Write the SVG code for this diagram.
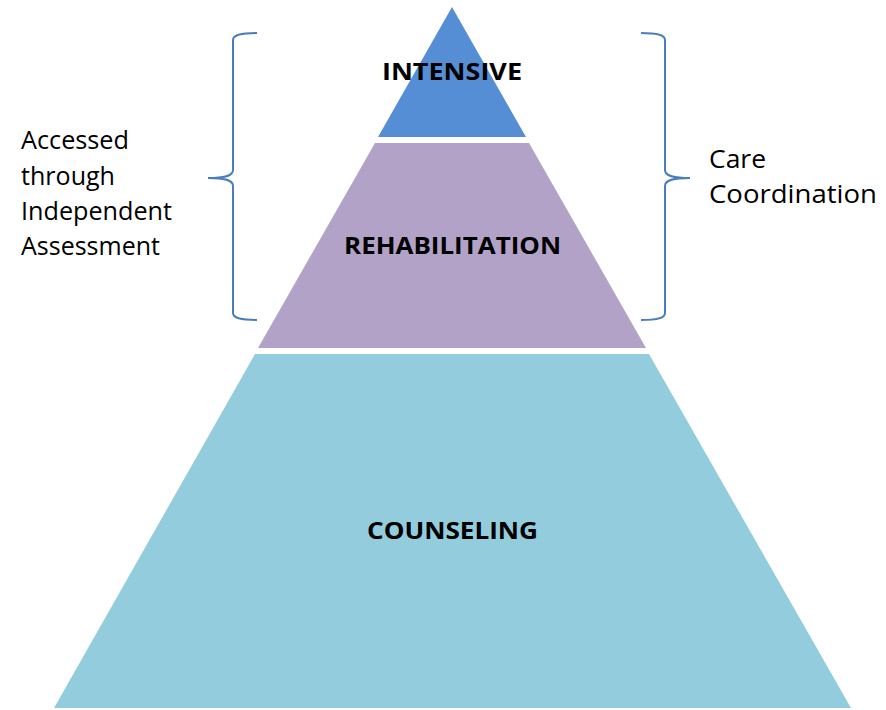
<svg xmlns="http://www.w3.org/2000/svg" width="886" height="710" viewBox="0 0 886 710">
<style>
.lbl{font-family:"Open Sans","Liberation Sans",sans-serif;font-size:25px;fill:#000}
.tier{font-family:"Open Sans","Liberation Sans",sans-serif;font-size:24px;font-weight:bold;fill:#000;text-anchor:start}
.brace{fill:none;stroke:#4A7EBB;stroke-width:2}
</style>
<rect width="886" height="710" fill="#fff"/>
<g id="counseling">
<polygon points="255,354 649,354 851,708 54,708" fill="#93CDDD"/>
<text class="tier" x="367" y="539" textLength="171" lengthAdjust="spacingAndGlyphs">COUNSELING</text>
</g>
<g id="rehabilitation">
<polygon points="375,143 529,143 646,348 258,348" fill="#B3A2C7"/>
<text class="tier" x="344" y="254" textLength="217" lengthAdjust="spacingAndGlyphs">REHABILITATION</text>
</g>
<g id="intensive">
<polygon points="452,7 526,137 378,137" fill="#558ED5"/>
<text class="tier" x="382" y="80" textLength="140" lengthAdjust="spacingAndGlyphs">INTENSIVE</text>
</g>
<g id="connectors">
<path class="brace" d="M257,33 C240,33 233,35 233,40 L233,170 C233,176 225,178 208,178 C225,178 233,180 233,186 L233,313 C233,318 240,320 257,320"/>
<path class="brace" d="M641,33 C658,33 665,35 665,40 L665,170 C665,176 673,178 690,178 C673,178 665,180 665,186 L665,313 C665,318 658,320 641,320"/>
</g>
<g id="access-label">
<text class="lbl" x="21" y="149" textLength="108" lengthAdjust="spacingAndGlyphs">Accessed</text>
<text class="lbl" x="21" y="185" textLength="94" lengthAdjust="spacingAndGlyphs">through</text>
<text class="lbl" x="21" y="220" textLength="151" lengthAdjust="spacingAndGlyphs">Independent</text>
<text class="lbl" x="21" y="255" textLength="139" lengthAdjust="spacingAndGlyphs">Assessment</text>
</g>
<g id="care-label">
<text class="lbl" x="709" y="168" textLength="57" lengthAdjust="spacingAndGlyphs">Care</text>
<text class="lbl" x="709" y="203" textLength="168" lengthAdjust="spacingAndGlyphs">Coordination</text>
</g>
</svg>
